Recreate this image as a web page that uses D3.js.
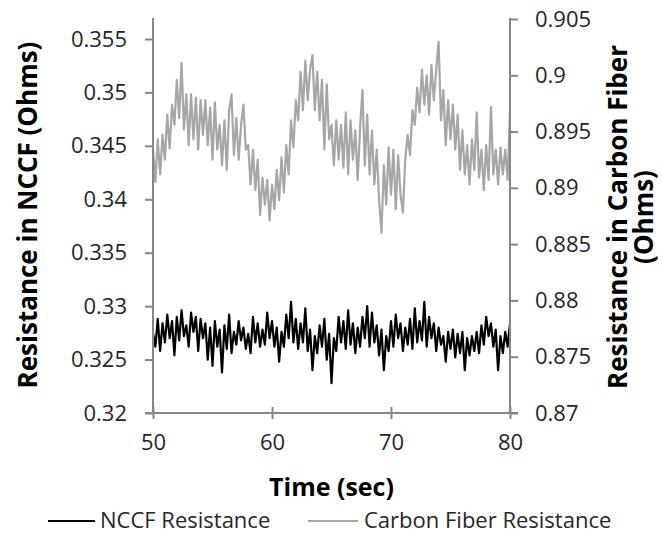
<!DOCTYPE html>
<html>
<head>
<meta charset="utf-8">
<script src="https://cdn.jsdelivr.net/npm/d3@7"></script>
<style>
  html, body { margin: 0; padding: 0; background: #fff; }
  svg { display: block; }
</style>
</head>
<body>
<svg id="chart" width="662" height="535"></svg>
<script>
// ---- Data ----
const timeStart = 50;
const timeStep = 0.2;
const xTicks = [50, 60, 70, 80];
const leftTicks = [0.32, 0.325, 0.33, 0.335, 0.34, 0.345, 0.35, 0.355];
const rightTicks = [0.87, 0.875, 0.88, 0.885, 0.89, 0.895, 0.9, 0.905];
const leftTickLabels = ["0.32", "0.325", "0.33", "0.335", "0.34", "0.345", "0.35", "0.355"];
const rightTickLabels = ["0.87", "0.875", "0.88", "0.885", "0.89", "0.895", "0.9", "0.905"];
const seriesNames = ["NCCF Resistance", "Carbon Fiber Resistance"];

// NCCF resistance (left axis), one value per 0.2 s from 50 to 80 s
const nccf = [
  0.3275,0.3262,0.3288,0.3258,0.3284,0.3266,0.3292,0.3270,0.3286,0.3254,
  0.3290,0.3268,0.3296,0.3272,0.3282,0.3262,0.3294,0.3276,0.3290,0.3258,
  0.3288,0.3270,0.3284,0.3250,0.3280,0.3244,0.3286,0.3262,0.3278,0.3238,
  0.3282,0.3260,0.3292,0.3256,0.3276,0.3264,0.3286,0.3268,0.3280,0.3260,
  0.3274,0.3256,0.3290,0.3266,0.3284,0.3262,0.3278,0.3264,0.3294,0.3270,
  0.3286,0.3262,0.3280,0.3248,0.3276,0.3262,0.3292,0.3270,0.3304,0.3266,
  0.3288,0.3260,0.3284,0.3266,0.3298,0.3258,0.3278,0.3240,0.3272,0.3256,
  0.3282,0.3262,0.3288,0.3250,0.3274,0.3228,0.3270,0.3258,0.3290,0.3266,
  0.3286,0.3260,0.3296,0.3264,0.3284,0.3256,0.3280,0.3262,0.3290,0.3270,
  0.3300,0.3262,0.3294,0.3266,0.3282,0.3254,0.3278,0.3240,0.3272,0.3258,
  0.3286,0.3262,0.3292,0.3270,0.3284,0.3258,0.3280,0.3264,0.3288,0.3260,
  0.3298,0.3266,0.3286,0.3268,0.3304,0.3262,0.3290,0.3270,0.3284,0.3258,
  0.3280,0.3264,0.3272,0.3248,0.3276,0.3260,0.3278,0.3252,0.3274,0.3256,
  0.3276,0.3240,0.3270,0.3254,0.3272,0.3258,0.3276,0.3256,0.3282,0.3264,
  0.3290,0.3272,0.3284,0.3262,0.3278,0.3240,0.3272,0.3256,0.3276,0.3262,
  0.3284
];

// Carbon fiber resistance (right axis), one value per 0.2 s from 50 to 80 s
const carbon = [
  0.8935,0.8905,0.8943,0.8912,0.8947,0.8925,0.8965,0.8935,0.8974,0.8956,
  0.8996,0.8962,0.9011,0.8952,0.8983,0.8938,0.8983,0.8943,0.8980,0.8934,
  0.8978,0.8947,0.8978,0.8938,0.8971,0.8925,0.8976,0.8934,0.8956,0.8920,
  0.8960,0.8916,0.8969,0.8983,0.8929,0.8962,0.8925,0.8956,0.8974,0.8934,
  0.8938,0.8903,0.8934,0.8898,0.8925,0.8876,0.8909,0.8885,0.8907,0.8871,
  0.8903,0.8881,0.8916,0.8889,0.8927,0.8896,0.8938,0.8912,0.8960,0.8936,
  0.8978,0.8960,0.9003,0.8969,0.9013,0.8978,0.9005,0.9018,0.8969,0.9003,
  0.8960,0.8996,0.8934,0.8992,0.8943,0.8956,0.8920,0.8960,0.8925,0.8956,
  0.8918,0.8967,0.8912,0.8960,0.8925,0.8951,0.8907,0.8953,0.8987,0.8920,
  0.8965,0.8912,0.8951,0.8903,0.8934,0.8889,0.8860,0.8920,0.8885,0.8936,
  0.8894,0.8934,0.8881,0.8929,0.8894,0.8878,0.8925,0.8947,0.8929,0.8969,
  0.8956,0.8989,0.8967,0.9005,0.8974,0.9000,0.8965,0.9009,0.8978,0.9005,
  0.9030,0.8960,0.8987,0.8938,0.8978,0.8943,0.8974,0.8934,0.8965,0.8916,
  0.8951,0.8912,0.8938,0.8903,0.8943,0.8916,0.8967,0.8909,0.8934,0.8898,
  0.8938,0.8907,0.8972,0.8912,0.8934,0.8903,0.8936,0.8912,0.8934,0.8907,
  0.8969
];

// ---- Chart ----
const svg = d3.select("#chart");
const FONT = "'Open Sans', 'DejaVu Sans', sans-serif";
const AXIS = "#868686";
const TXT = "#262626";

const plotLeft = 153, plotRight = 510, plotTop = 18, plotBottom = 413;

const x = d3.scaleLinear().domain([50, 80]).range([plotLeft, plotRight]);
// left axis: 0.32 at bottom, 0.355 tick sits a little below the top of the axis line
const yL = d3.scaleLinear().domain([0.32, 0.355]).range([plotBottom, 39]);
const yR = d3.scaleLinear().domain([0.87, 0.905]).range([plotBottom, 19]);

const timeOf = i => timeStart + i * timeStep;

// series
const lineR = d3.line().x((d, i) => x(timeOf(i))).y(d => yR(d));
const lineL = d3.line().x((d, i) => x(timeOf(i))).y(d => yL(d));

svg.append("path").datum(carbon)
  .attr("d", lineR).attr("fill", "none")
  .attr("stroke", "#a6a6a6").attr("stroke-width", 2.2).attr("stroke-linejoin", "round");
svg.append("path").datum(nccf)
  .attr("d", lineL).attr("fill", "none")
  .attr("stroke", "#000").attr("stroke-width", 2.2).attr("stroke-linejoin", "round");

function styleAxis(g) {
  g.selectAll("path, line").attr("stroke", AXIS).attr("stroke-width", 2);
  g.selectAll("text").attr("fill", TXT).attr("font-family", FONT).attr("font-size", 22);
}

// left axis
const gL = svg.append("g").attr("transform", `translate(${plotLeft},0)`)
  .call(d3.axisLeft(yL).tickValues(leftTicks).tickSize(8).tickSizeOuter(0)
    .tickPadding(18).tickFormat((d, i) => leftTickLabels[i]));
gL.select(".domain").attr("d", `M0,${plotBottom}V${plotTop}`);
styleAxis(gL);

// right axis
const gR = svg.append("g").attr("transform", `translate(${plotRight},0)`)
  .call(d3.axisRight(yR).tickValues(rightTicks).tickSize(8).tickSizeOuter(0)
    .tickPadding(17).tickFormat((d, i) => rightTickLabels[i]));
gR.select(".domain").attr("d", `M0,${plotBottom}V${plotTop}`);
styleAxis(gR);

// bottom axis
const gX = svg.append("g").attr("transform", `translate(0,${plotBottom})`)
  .call(d3.axisBottom(x).tickValues(xTicks).tickSize(7).tickSizeOuter(0).tickPadding(14)
    .tickFormat(d3.format("d")));
gX.select(".domain").attr("d", `M${plotLeft - 8},0H${plotRight + 8}`);
gX.selectAll(".tick line").attr("y1", -6).attr("y2", 6);
styleAxis(gX);

// axis titles
svg.append("text")
  .attr("transform", `translate(37,215) rotate(-90)`)
  .attr("text-anchor", "middle").attr("font-family", FONT).attr("font-weight", "bold")
  .attr("font-size", 26).attr("fill", "#000")
  .text("Resistance in NCCF (Ohms)");

const rt = svg.append("text")
  .attr("transform", `translate(627,217) rotate(-90)`)
  .attr("text-anchor", "middle").attr("font-family", FONT).attr("font-weight", "bold")
  .attr("font-size", 26).attr("fill", "#000");
rt.append("tspan").attr("x", 0).attr("dy", 0).text("Resistance in Carbon Fiber");
rt.append("tspan").attr("x", 0).attr("dy", 26).text("(Ohms)");

svg.append("text")
  .attr("x", (plotLeft + plotRight) / 2).attr("y", 496)
  .attr("text-anchor", "middle").attr("font-family", FONT).attr("font-weight", "bold")
  .attr("font-size", 25).attr("fill", "#000")
  .text("Time (sec)");

// legend
const legendItems = [
  { name: seriesNames[0], color: "#000", x1: 48, x2: 95, tx: 100 },
  { name: seriesNames[1], color: "#a6a6a6", x1: 308, x2: 358, tx: 364 }
];
const lg = svg.append("g");
legendItems.forEach(it => {
  lg.append("line").attr("x1", it.x1).attr("x2", it.x2).attr("y1", 521).attr("y2", 521)
    .attr("stroke", it.color).attr("stroke-width", 2);
  lg.append("text").attr("x", it.tx).attr("y", 528)
    .attr("font-family", FONT).attr("font-size", 22).attr("fill", TXT)
    .text(it.name);
});
</script>
</body>
</html>
